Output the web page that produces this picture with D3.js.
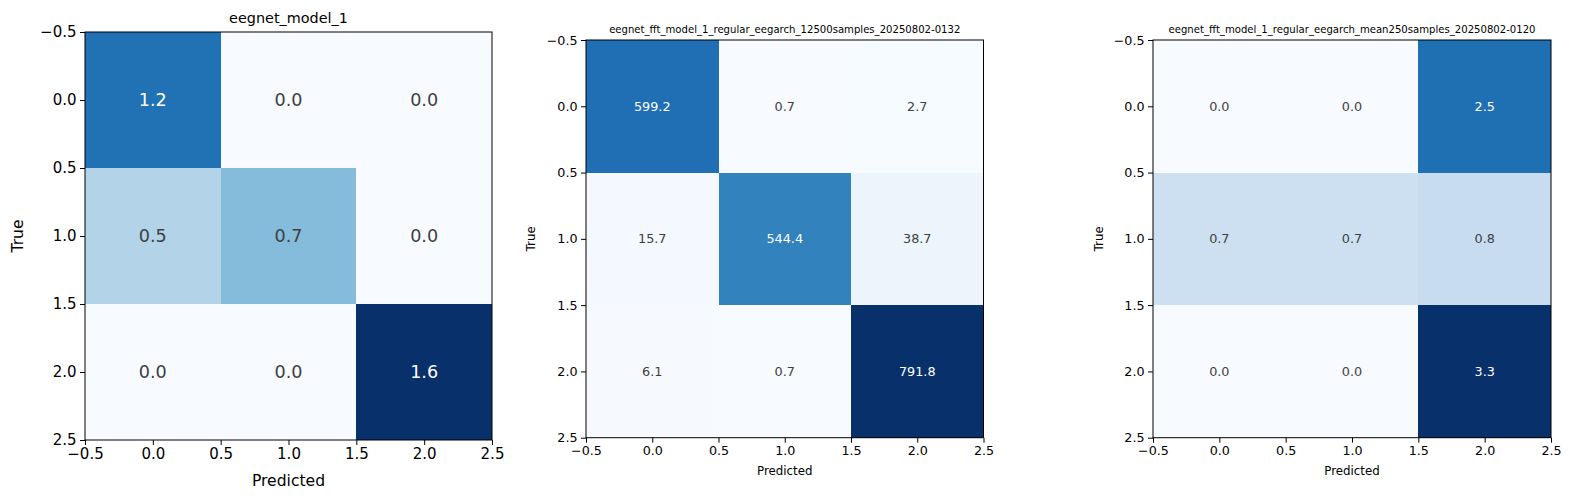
<!DOCTYPE html>
<html>
<head>
<meta charset="utf-8">
<script src="https://cdn.jsdelivr.net/npm/d3@7"></script>
<style>
  body { margin: 0; background: #fff; }
  svg { font-family: "DejaVu Sans", sans-serif; }
  .domain { display: none; }
</style>
</head>
<body>
<svg id="chart" width="1571" height="502"></svg>
<script>
// confusion matrices (rows = true class, cols = predicted class)
const titles = [
  'eegnet_model_1',
  'eegnet_fft_model_1_regular_eegarch_12500samples_20250802-0132',
  'eegnet_fft_model_1_regular_eegarch_mean250samples_20250802-0120'
];
const matrixA = [
  [1.2, 0.0, 0.0],
  [0.5, 0.7, 0.0],
  [0.0, 0.0, 1.6]
];
const matrixB = [
  [599.2, 0.7, 2.7],
  [15.7, 544.4, 38.7],
  [6.1, 0.7, 791.8]
];
const matrixC = [
  [0.0, 0.0, 2.5],
  [0.7, 0.7, 0.8],
  [0.0, 0.0, 3.3]
];
const tickValues = [-0.5, 0.0, 0.5, 1.0, 1.5, 2.0, 2.5];

// layout for each panel (the three source images were scaled differently)
const panels = [
  { m: matrixA, x: 85, y: 32, w: 407, h: 408, titleY: 18, titleSize: 14.4,
    tickSize: 15, labelSize: 15.6, cellSize: 17.6, xlabelY: 481, ylabelX: 18 },
  { m: matrixB, x: 586, y: 40, w: 397.5, h: 397.7, titleY: 29, titleSize: 10.1,
    tickSize: 12.7, labelSize: 11.8, cellSize: 12.8, xlabelY: 471, ylabelX: 531 },
  { m: matrixC, x: 1153, y: 40, w: 398, h: 397.7, titleY: 29, titleSize: 10.1,
    tickSize: 12.7, labelSize: 11.8, cellSize: 12.8, xlabelY: 471, ylabelX: 1099 }
];

// matplotlib "Blues" = linear interpolation of the 9 ColorBrewer stops
const blues = d3.schemeBlues[9];
const svg = d3.select('#chart');
const fmt = d3.format('.1f');

panels.forEach((p, i) => {
  const g = svg.append('g').attr('transform', `translate(${p.x},${p.y})`);
  const flat = p.m.flat();
  const vmin = d3.min(flat), vmax = d3.max(flat);
  const color = d3.scaleLinear()
    .domain(d3.range(9).map(k => vmin + (vmax - vmin) * k / 8))
    .range(blues)
    .clamp(true);

  const xScale = d3.scaleLinear().domain([-0.5, 2.5]).range([0, p.w]);
  const yScale = d3.scaleLinear().domain([-0.5, 2.5]).range([0, p.h]);

  const cells = [];
  p.m.forEach((row, r) => row.forEach((v, c) => cells.push({ r, c, v })));

  g.selectAll('rect.cell')
    .data(cells)
    .enter()
    .append('rect')
    .attr('class', 'cell')
    .attr('x', d => xScale(d.c - 0.5))
    .attr('y', d => yScale(d.r - 0.5))
    .attr('width', xScale(0.5) - xScale(-0.5))
    .attr('height', yScale(0.5) - yScale(-0.5))
    .attr('fill', d => color(d.v))
    .attr('shape-rendering', 'crispEdges');

  g.selectAll('text.val')
    .data(cells)
    .enter()
    .append('text')
    .attr('class', 'val')
    .attr('x', d => xScale(d.c))
    .attr('y', d => yScale(d.r))
    .attr('text-anchor', 'middle')
    .attr('dominant-baseline', 'central')
    .attr('font-size', p.cellSize)
    .attr('fill', d => d.v > vmax / 2 ? '#ffffff' : '#404040')
    .text(d => fmt(d.v));

  // frame
  g.append('rect')
    .attr('width', p.w).attr('height', p.h)
    .attr('fill', 'none').attr('stroke', '#000').attr('stroke-width', 1);

  // axes
  const xAxis = g.append('g')
    .attr('transform', `translate(0,${p.h})`)
    .call(d3.axisBottom(xScale).tickValues(tickValues).tickFormat(fmt).tickSize(5).tickPadding(3));
  const yAxis = g.append('g')
    .call(d3.axisLeft(yScale).tickValues(tickValues).tickFormat(fmt).tickSize(5).tickPadding(3.5));
  [xAxis, yAxis].forEach(a => {
    a.selectAll('text').attr('font-size', p.tickSize).attr('fill', '#000')
      .attr('font-family', '"DejaVu Sans", sans-serif');
    a.selectAll('line').attr('stroke', '#000');
  });

  // titles and labels
  svg.append('text')
    .attr('x', p.x + p.w / 2).attr('y', p.titleY)
    .attr('text-anchor', 'middle').attr('dominant-baseline', 'central')
    .attr('font-size', p.titleSize)
    .text(titles[i]);

  svg.append('text')
    .attr('x', p.x + p.w / 2).attr('y', p.xlabelY)
    .attr('text-anchor', 'middle').attr('dominant-baseline', 'central')
    .attr('font-size', p.labelSize)
    .text('Predicted');

  svg.append('text')
    .attr('transform', `translate(${p.ylabelX},${p.y + p.h / 2}) rotate(-90)`)
    .attr('text-anchor', 'middle').attr('dominant-baseline', 'central')
    .attr('font-size', p.labelSize)
    .text('True');
});
</script>
</body>
</html>
